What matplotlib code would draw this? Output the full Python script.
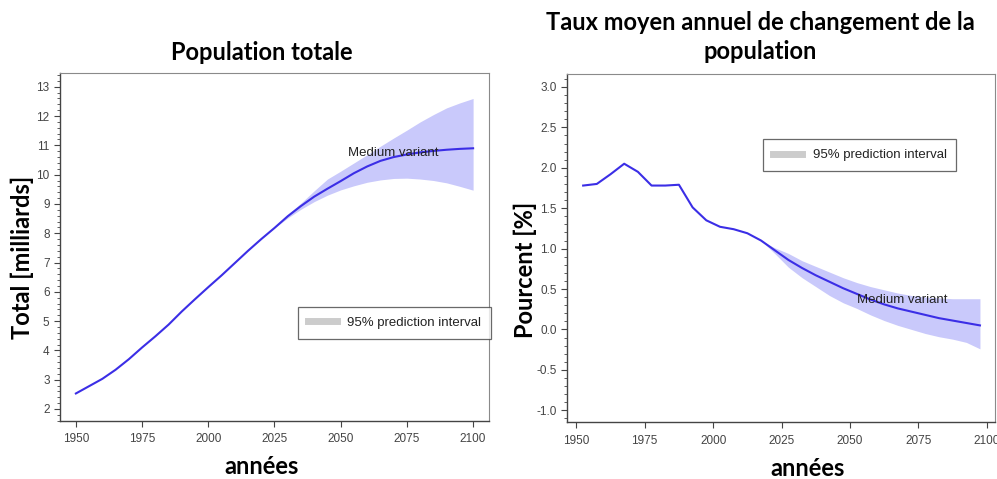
import matplotlib.pyplot as plt
from matplotlib.lines import Line2D
from matplotlib.ticker import MultipleLocator

# population totale (milliards), medium variant
years_pop = [1950, 1955, 1960, 1965, 1970, 1975, 1980, 1985, 1990, 1995, 2000,
             2005, 2010, 2015, 2020, 2025, 2030, 2035, 2040, 2045, 2050, 2055,
             2060, 2065, 2070, 2075, 2080, 2085, 2090, 2095, 2100]
pop_total = [2.53, 2.78, 3.03, 3.34, 3.70, 4.10, 4.48, 4.88, 5.33, 5.75, 6.16,
             6.56, 6.98, 7.40, 7.80, 8.18, 8.58, 8.93, 9.25, 9.52, 9.78, 10.05,
             10.28, 10.47, 10.60, 10.69, 10.76, 10.81, 10.85, 10.88, 10.90]

# 95% prediction interval
band_years_pop = [2025, 2030, 2035, 2040, 2045, 2050, 2055, 2060, 2065, 2070,
                  2075, 2080, 2085, 2090, 2095, 2100]
pop_low = [8.18, 8.52, 8.82, 9.08, 9.30, 9.48, 9.62, 9.74, 9.82, 9.87,
           9.88, 9.85, 9.80, 9.72, 9.60, 9.47]
pop_high = [8.18, 8.64, 9.03, 9.45, 9.85, 10.12, 10.40, 10.68, 10.97, 11.25,
            11.52, 11.80, 12.05, 12.28, 12.45, 12.60]

# taux moyen annuel (%), milieu des periodes quinquennales
mid_years = [1952.5, 1957.5, 1962.5, 1967.5, 1972.5, 1977.5, 1982.5, 1987.5,
             1992.5, 1997.5, 2002.5, 2007.5, 2012.5, 2017.5, 2022.5, 2027.5,
             2032.5, 2037.5, 2042.5, 2047.5, 2052.5, 2057.5, 2062.5, 2067.5,
             2072.5, 2077.5, 2082.5, 2087.5, 2092.5, 2097.5]
growth_rate = [1.78, 1.80, 1.92, 2.05, 1.95, 1.78, 1.78, 1.79, 1.51, 1.35,
               1.27, 1.24, 1.19, 1.10, 0.98, 0.86, 0.76, 0.67, 0.59, 0.51,
               0.44, 0.37, 0.31, 0.26, 0.22, 0.18, 0.14, 0.11, 0.08, 0.05]

band_years_rate = [2017.5, 2022.5, 2027.5, 2032.5, 2037.5, 2042.5, 2047.5,
                   2052.5, 2057.5, 2062.5, 2067.5, 2072.5, 2077.5, 2082.5,
                   2087.5, 2092.5, 2097.5]
rate_low = [1.10, 0.94, 0.77, 0.64, 0.53, 0.42, 0.33, 0.26, 0.18, 0.11,
            0.05, 0.00, -0.05, -0.09, -0.12, -0.16, -0.24]
rate_high = [1.10, 1.01, 0.94, 0.85, 0.78, 0.71, 0.64, 0.58, 0.53, 0.49,
             0.45, 0.42, 0.40, 0.39, 0.38, 0.38, 0.38]

x_ticks = [1950, 1975, 2000, 2025, 2050, 2075, 2100]

line_color = '#3b2ee6'
band_color = '#c9c9fb'
head_font = 'Lato'
small_font = 'Liberation Sans'

plt.rcParams['font.family'] = [small_font, 'DejaVu Sans']

fig = plt.figure(figsize=(9.97, 4.79), dpi=100)
W, H = 997, 479


def px_axes(x0, y0, x1, y1):
    return fig.add_axes([x0 / W, 1 - y1 / H, (x1 - x0) / W, (y1 - y0) / H])


def style_axes(ax, minor):
    for side in ['top', 'right']:
        ax.spines[side].set_color('#8a8a8a')
        ax.spines[side].set_linewidth(0.8)
    for side in ['left', 'bottom']:
        ax.spines[side].set_color('#444444')
        ax.spines[side].set_linewidth(1.0)
    ax.set_xticks(x_ticks)
    ax.yaxis.set_minor_locator(MultipleLocator(minor))
    ax.tick_params(axis='both', which='major', direction='out', length=4,
                   width=0.8, color='#444444', labelsize=8.5, labelcolor='#444444')
    ax.tick_params(axis='x', which='major', pad=5)
    ax.tick_params(axis='y', which='minor', direction='out', length=2,
                   width=0.6, color='#444444')


def add_legend(ax, cx, cy):
    handle = Line2D([], [], color='#cccccc', linewidth=5)
    leg = ax.legend([handle], ['95% prediction interval'], loc='center',
                    bbox_to_anchor=(cx, cy), frameon=True, fancybox=False,
                    handlelength=2.2, borderpad=0.75, handletextpad=0.8,
                    prop={'family': small_font, 'size': 9.5})
    leg.get_frame().set_edgecolor('#444444')
    leg.get_frame().set_linewidth(0.9)
    for t in leg.get_texts():
        t.set_color('#222222')


# --- gauche : population totale ---
ax1 = px_axes(60, 73, 489, 421)
ax1.fill_between(band_years_pop, pop_low, pop_high, color=band_color, linewidth=0)
ax1.plot(years_pop, pop_total, color=line_color, linewidth=1.5)
ax1.set_xlim(1944, 2106)
ax1.set_ylim(1.59, 13.47)
ax1.set_yticks(range(2, 14))
style_axes(ax1, 0.2)
ax1.text(2052.8, 10.74, 'Medium variant', fontsize=9.5, color='#222222',
         va='center', ha='left')
add_legend(ax1, 0.78, 0.283)

# --- droite : taux de changement ---
ax2 = px_axes(567, 74, 995, 422)
ax2.fill_between(band_years_rate, rate_low, rate_high, color=band_color, linewidth=0)
ax2.plot(mid_years, growth_rate, color=line_color, linewidth=1.5)
ax2.set_xlim(1946.6, 2103)
ax2.set_ylim(-1.145, 3.16)
ax2.set_yticks([-1.0, -0.5, 0.0, 0.5, 1.0, 1.5, 2.0, 2.5, 3.0])
ax2.set_yticklabels(['-1.0', '-0.5', '0.0', '0.5', '1.0', '1.5', '2.0', '2.5', '3.0'])
style_axes(ax2, 0.1)
ax2.text(2052.6, 0.36, 'Medium variant', fontsize=9.5, color='#222222',
         va='center', ha='left')
add_legend(ax2, 0.684, 0.767)

# titres et libelles d'axes
fig.text(262 / W, 1 - 52 / H, 'Population totale', fontsize=17,
         fontweight='bold', family=head_font, ha='center', va='center')
fig.text(760 / W, 1 - 37 / H, 'Taux moyen annuel de changement de la\npopulation',
         fontsize=17, fontweight='bold', family=head_font, ha='center',
         va='center', linespacing=1.3)
fig.text(22 / W, 1 - 257 / H, 'Total [milliards]', fontsize=17,
         fontweight='bold', family=head_font, rotation=90, ha='center', va='center')
fig.text(525 / W, 1 - 270 / H, 'Pourcent [%]', fontsize=17,
         fontweight='bold', family=head_font, rotation=90, ha='center', va='center')
fig.text(262 / W, 1 - 466 / H, 'années', fontsize=17, fontweight='bold',
         family=head_font, ha='center', va='center')
fig.text(808 / W, 1 - 468 / H, 'années', fontsize=17, fontweight='bold',
         family=head_font, ha='center', va='center')

fig.savefig('out.png', dpi=100)
